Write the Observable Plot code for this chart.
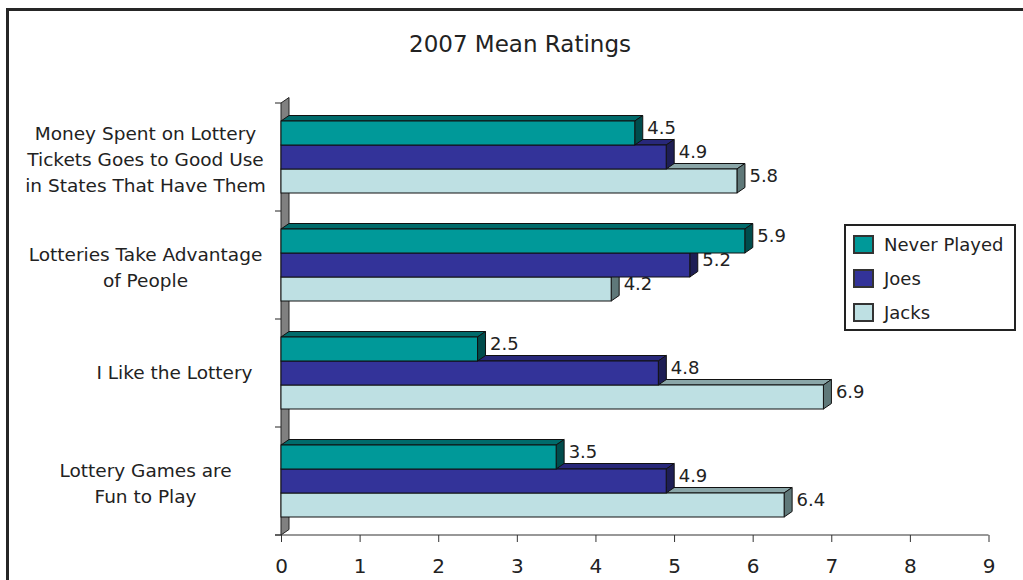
<!DOCTYPE html>
<html>
<head>
<meta charset="utf-8">
<script src="https://cdn.jsdelivr.net/npm/d3@7"></script>
<script src="https://cdn.jsdelivr.net/npm/@observablehq/plot@0.6"></script>
<style>
  html, body { margin: 0; padding: 0; background: #fff; width: 1023px; height: 580px; overflow: hidden; }
  #frame { position: absolute; left: 6px; top: 8px; width: 1050px; height: 620px; border: 3px solid #262626; box-sizing: border-box; pointer-events: none; }
  #wrap { position: absolute; left: 0; top: 0; width: 1023px; height: 580px; font-family: "DejaVu Sans", sans-serif; color: #222; }
  #title { height: 60px; box-sizing: border-box; padding-top: 31px; padding-left: 17px; text-align: center; font-size: 23px; line-height: 26px; }
  #legend { position: absolute; left: 844px; top: 224px; width: 172px; height: 107px; box-sizing: border-box; border: 2px solid #222; background: #fff; padding-top: 1px; }
  #legend .row { height: 34px; display: flex; align-items: center; font-size: 18px; }
  #legend .sw { width: 21px; height: 19px; box-sizing: border-box; border: 2.5px solid #333; margin-left: 7px; margin-right: 10px; }
</style>
</head>
<body>
<div id="frame"></div>
<div id="wrap">
  <div id="title">2007 Mean Ratings</div>
  <div id="chart"></div>
  <div id="legend"></div>
</div>
<script>
// ---- data ----
const categories = [
  "Money Spent on Lottery Tickets Goes to Good Use in States That Have Them",
  "Lotteries Take Advantage of People",
  "I Like the Lottery",
  "Lottery Games are Fun to Play"
];
const categoryLines = [
  ["Money Spent on Lottery", "Tickets Goes to Good Use", "in States That Have Them"],
  ["Lotteries Take Advantage", "of People"],
  ["I Like the Lottery"],
  ["Lottery Games are", "Fun to Play"]
];
const seriesNames = ["Never Played", "Joes", "Jacks"];
const neverPlayed = [4.5, 5.9, 2.5, 3.5];
const joes = [4.9, 5.2, 4.8, 4.9];
const jacks = [5.8, 4.2, 6.9, 6.4];
const xTicks = [0, 1, 2, 3, 4, 5, 6, 7, 8, 9];

// ---- styles ----
const frontColors = ["#009999", "#333399", "#bee0e3"];
const topColors = ["#006b6b", "#28287a", "#8aa6a8"];
const sideColors = ["#004c4c", "#1e1e55", "#5f7879"];
const seriesValues = [neverPlayed, joes, jacks];
const DX = 8, DY = 5.5;

function pts(a) { return a.map(p => p.join(",")).join(" "); }

function wallMark() {
  return (index, scales) => {
    const x = scales.x, y = scales.y;
    const [r0, r1] = y.range();
    const step = y.step();
    const x0 = x(0);
    const g = d3.create("svg:g");
    g.append("polygon")
      .attr("points", pts([[x0, r0], [x0 + DX, r0 - DY], [x0 + DX, r1 - DY], [x0, r1]]))
      .attr("fill", "#808080").attr("stroke", "#222").attr("stroke-width", 1);
    for (let k = 0; k <= categories.length; k++) {
      const yy = r0 + k * step;
      g.append("line").attr("x1", x0 - 6).attr("x2", x0).attr("y1", yy).attr("y2", yy)
        .attr("stroke", "#222").attr("stroke-width", 1);
    }
    g.append("line").attr("x1", x0 - 6).attr("x2", x(9)).attr("y1", r1).attr("y2", r1)
      .attr("stroke", "#333").attr("stroke-width", 1.2);
    return g.node();
  };
}

function facesMark(si) {
  const values = seriesValues[si];
  return (index, scales) => {
    const x = scales.x, y = scales.y;
    const h = y.bandwidth() / 3;
    const g = d3.create("svg:g");
    categories.forEach((c, k) => {
      const x0 = x(0), x1 = x(values[k]);
      const yt = y(c) + si * h, yb = yt + h;
      g.append("polygon")
        .attr("points", pts([[x0, yt], [x0 + DX, yt - DY], [x1 + DX, yt - DY], [x1, yt]]))
        .attr("fill", topColors[si]).attr("stroke", "#111").attr("stroke-width", 1).attr("stroke-linejoin", "round");
      g.append("polygon")
        .attr("points", pts([[x1, yt], [x1 + DX, yt - DY], [x1 + DX, yb - DY], [x1, yb]]))
        .attr("fill", sideColors[si]).attr("stroke", "#111").attr("stroke-width", 1).attr("stroke-linejoin", "round");
    });
    return g.node();
  };
}

const marks = [wallMark()];
// draw bottom series first so upper bars cover the top faces of lower ones
for (const si of [2, 1, 0]) {
  const values = seriesValues[si];
  marks.push(facesMark(si));
  marks.push(Plot.barX(categories, {
    x1: 0,
    x2: (d, i) => values[i],
    y: d => d,
    fill: frontColors[si],
    stroke: "#111",
    strokeWidth: 1,
    insetTop: si * 24,
    insetBottom: (2 - si) * 24
  }));
  marks.push(Plot.text(categories, {
    x: (d, i) => values[i],
    y: d => d,
    text: (d, i) => values[i].toFixed(1),
    dx: DX + 4,
    dy: (si - 1) * 24 - DY,
    textAnchor: "start",
    fontSize: 18,
    fill: "#222"
  }));
}
// category labels
marks.push(Plot.text(categories, {
  filter: (d, i) => i !== 2,
  y: d => d,
  text: (d, i) => categoryLines[i].join("\n"),
  frameAnchor: "left",
  dx: -136,
  textAnchor: "middle",
  lineHeight: 1.42,
  fontSize: 18.5,
  fill: "#222"
}));
marks.push(Plot.text(categories, {
  filter: (d, i) => i === 2,
  y: d => d,
  text: (d, i) => categoryLines[i].join("\n"),
  frameAnchor: "left",
  dx: -107,
  textAnchor: "middle",
  fontSize: 18.5,
  fill: "#222"
}));
marks.push(Plot.axisX({
  ticks: xTicks,
  tickSize: 7,
  tickPadding: 16,
  fontSize: 20,
  stroke: "#333",
  fill: "#222",
  label: null
}));

const chart = Plot.plot({
  width: 1023,
  height: 520,
  marginLeft: 281,
  marginRight: 34.5,
  marginTop: 43,
  marginBottom: 45,
  x: { domain: [0, 9], axis: null },
  y: { domain: categories, paddingInner: 1 / 3, paddingOuter: 1 / 6, round: false, axis: null },
  style: { fontFamily: "DejaVu Sans, sans-serif", fontSize: "18px", color: "#222", background: "transparent", overflow: "visible" },
  marks
});
document.getElementById("chart").appendChild(chart);

// legend
const legend = d3.select("#legend");
seriesNames.forEach((name, i) => {
  const row = legend.append("div").attr("class", "row");
  row.append("span").attr("class", "sw").style("background", frontColors[i]);
  row.append("span").text(name);
});
</script>
</body>
</html>
